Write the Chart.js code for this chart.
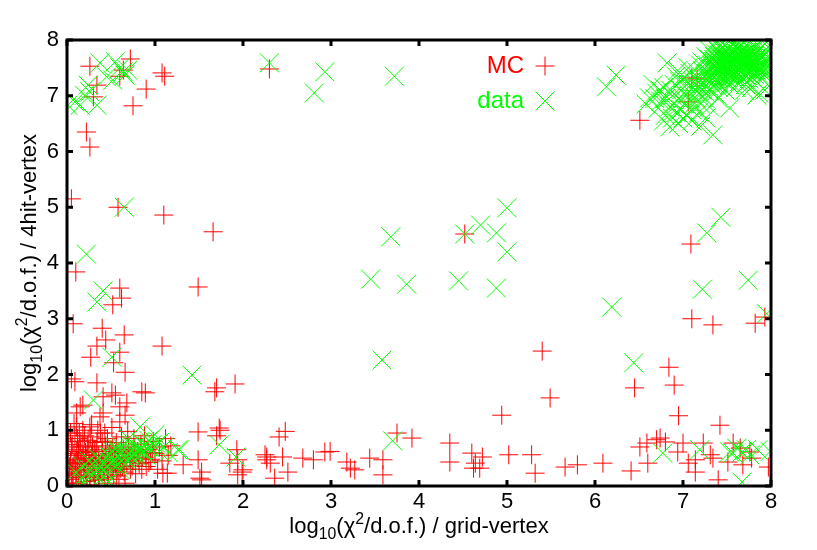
<!DOCTYPE html>
<html>
<head>
<meta charset="utf-8">
<script src="https://cdn.jsdelivr.net/npm/chart.js"></script>
<style>
  html, body { margin: 0; padding: 0; background: #fff; }
  #wrap { width: 817px; height: 550px; }
</style>
</head>
<body>
<div id="wrap"><canvas id="chart" width="817" height="550"></canvas></div>
<script>
// axis ranges and tick values
const xTicks = [0, 1, 2, 3, 4, 5, 6, 7, 8];
const yTicks = [0, 1, 2, 3, 4, 5, 6, 7, 8];
const seriesNames = ['MC', 'data'];

// MC: [log10(chi2/dof) grid-vertex, log10(chi2/dof) 4hit-vertex]
const mcPoints = [
  // scattered points
  [0.26,7.53],[0.34,7.19],[0.30,6.98],[0.22,6.35],[0.26,6.08],[0.75,6.82],[0.72,7.66],[0.64,7.46],
  [0.60,7.35],[0.90,7.12],[1.08,7.41],[1.11,7.35],[2.30,7.48],[0.05,5.15],[0.58,5.00],[1.10,4.86],
  [1.66,4.56],[1.49,3.57],[0.10,3.84],[0.60,3.55],[0.62,3.37],[0.52,3.25],[0.07,2.91],[0.40,2.83],
  [0.65,2.71],[0.44,2.62],[0.34,2.51],[1.08,2.51],[0.27,2.31],[0.60,2.40],[0.53,2.21],[0.66,2.04],
  [0.05,1.92],[0.34,1.85],[1.68,1.69],[1.70,1.76],[1.91,1.83],[0.85,1.69],[0.89,1.67],[0.51,1.67],
  [0.55,1.63],[0.41,1.60],[0.68,1.49],[0.15,1.42],[0.11,1.31],[0.41,1.31],[0.66,1.27],[0.18,1.45],
  [0.60,1.42],[0.375,1.24],[0.60,1.15],[1.49,0.97],[1.74,1.00],[0.11,1.06],[0.26,1.06],[0.06,0.74],
  [1.49,0.47],[1.32,0.38],[1.94,0.47],[1.99,0.25],[1.53,0.25],[1.09,0.23],[2.27,0.47],[2.41,0.88],
  [1.73,1.04],[1.70,0.90],[2.48,0.98],[1.93,0.65],[2.27,0.52],[2.45,0.52],[2.68,0.50],[2.80,0.47],
  [1.85,0.41],[2.00,0.29],[1.51,0.14],[1.94,0.20],[2.36,0.14],[2.51,0.25],[1.14,0.23],[2.25,0.56],
  [2.31,0.41],[2.93,0.61],[2.99,0.62],[3.18,0.43],[3.22,0.32],[3.27,0.29],[3.44,0.50],[3.59,0.47],
  [3.59,0.20],[3.75,0.95],[3.92,0.86],[4.35,0.77],[4.35,0.43],[4.60,0.59],[4.72,0.52],[4.64,0.41],
  [4.69,0.32],[4.62,0.32],[4.94,1.27],[5.02,0.56],[5.28,0.56],[5.32,0.23],[6.45,1.76],[6.90,1.81],
  [5.49,1.58],[6.95,1.26],[7.42,1.09],[5.66,0.34],[5.80,0.38],[6.09,0.41],[6.41,0.27],[6.60,0.41],
  [6.51,0.70],[6.59,0.77],[6.70,0.83],[6.74,0.86],[6.80,0.79],[6.94,0.61],[7.00,0.77],[7.06,0.41],
  [7.14,0.25],[7.14,0.47],[7.23,0.77],[7.31,0.56],[7.34,0.50],[7.40,0.11],[7.51,0.43],[7.57,0.77],
  [7.65,0.68],[7.68,0.38],[7.76,0.61],[7.78,0.50],[7.97,0.34],[7.09,4.34],[7.10,3.00],[7.34,2.89],
  [7.82,2.92],[7.93,3.03],[5.40,2.42],[6.84,2.13],[4.52,4.52],[6.51,6.56],[7.10,7.32],[7.16,7.30],
  [7.06,6.89],[0.09,1.87],[1.53,0.11],
  // dense group near the origin
  [0.02,0.05],[0.03,0.25],[0.04,0.45],[0.05,0.70],[0.06,0.12],[0.07,0.35],[0.08,0.58],[0.09,0.90],
  [0.10,0.20],[0.11,0.05],[0.12,0.42],[0.13,0.65],[0.14,0.30],[0.15,0.80],[0.16,0.15],[0.17,0.50],
  [0.18,1.00],[0.19,0.25],[0.20,0.38],[0.21,0.60],[0.22,0.08],[0.23,0.72],[0.24,0.30],[0.25,0.45],
  [0.26,0.18],[0.27,0.88],[0.28,0.55],[0.29,0.35],[0.30,0.25],[0.31,0.65],[0.32,0.10],[0.33,0.45],
  [0.34,0.78],[0.35,0.30],[0.36,0.55],[0.37,0.20],[0.38,0.95],[0.39,0.40],[0.40,0.62],[0.41,0.28],
  [0.42,0.50],[0.43,0.15],[0.44,0.72],[0.45,0.38],[0.46,0.85],[0.47,0.25],[0.48,0.58],[0.49,0.45],
  [0.50,0.32],[0.51,1.05],[0.52,0.68],[0.53,0.20],[0.54,0.50],[0.55,0.40],[0.56,0.78],[0.57,0.30],
  [0.58,0.60],[0.59,0.12],[0.60,0.48],[0.62,0.88],[0.63,0.35],[0.64,0.65],[0.65,0.25],[0.66,0.52],
  [0.68,0.42],[0.69,0.98],[0.70,0.70],[0.72,0.30],[0.73,0.58],[0.75,0.45],[0.76,0.85],[0.78,0.22],
  [0.80,0.62],[0.82,0.40],[0.84,0.75],[0.86,0.52],[0.88,0.90],[0.90,0.35],[0.92,0.65],[0.95,0.48],
  [0.98,0.80],[1.00,0.58],[1.03,0.30],[1.05,0.70],[1.08,0.45],[1.12,0.85],[1.15,0.55],[1.18,0.72],
  [0.04,0.95],[0.08,1.12],[0.12,0.85],[0.20,0.90],[0.28,1.10],[0.35,1.00],[0.15,0.62],[0.25,0.62],
  [0.32,0.50],[0.43,0.95],[0.10,0.48],[0.22,0.50],[0.30,0.42],[0.18,0.70],[0.06,0.32],[0.36,0.12],
  [0.46,0.05],[0.26,0.02],[0.56,0.18],[0.66,0.05],
  [0.01,0.15],[0.01,0.55],[0.02,0.80],[0.03,0.35],[0.05,0.22],[0.07,0.05],[0.09,0.40],[0.11,0.62],
  [0.13,0.18],[0.14,0.95],[0.16,0.40],[0.19,0.55],[0.21,0.28],[0.23,0.15],[0.24,0.82],[0.27,0.40],
  [0.29,0.70],[0.31,0.18],[0.33,0.62],[0.36,0.40],[0.38,0.28],[0.40,0.80],[0.42,0.35],[0.44,0.55],
  [0.47,0.42],[0.50,0.65],[0.52,0.28],[0.55,0.58],[0.58,0.45],[0.61,0.32],[0.64,0.42],[0.67,0.62],
  [0.71,0.52],[0.74,0.36],[0.77,0.65],[0.81,0.50],[0.85,0.30],[0.89,0.60],[0.93,0.42],[0.97,0.60]
];

// data
const dataPoints = [
  // scattered points
  [0.09,6.89],[0.01,6.83],[0.15,6.83],[0.20,7.01],[0.26,7.07],[0.34,6.83],[0.24,7.19],[0.375,7.59],
  [0.45,7.34],[0.55,7.61],[0.64,7.43],[0.69,7.46],[0.60,7.50],[0.66,7.37],[0.52,7.28],[2.30,7.59],
  [0.65,5.00],[2.93,7.43],[2.81,7.05],[3.72,7.35],[5.00,4.99],[4.70,4.68],[4.88,4.54],[4.52,4.52],
  [5.00,4.20],[3.68,4.47],[3.45,3.71],[3.86,3.62],[4.45,3.68],[4.88,3.55],[3.58,2.26],[0.22,4.16],
  [0.41,3.50],[0.34,3.30],[0.51,2.31],[1.42,1.99],[0.30,1.54],[7.43,4.82],[7.27,4.54],[7.22,3.53],
  [7.74,3.69],[6.19,3.21],[7.95,3.09],[6.44,2.21],[6.24,7.37],[6.13,7.16],[6.77,0.59],[7.19,0.65],
  [7.53,0.61],[7.61,0.68],[7.67,0.61],[7.72,0.65],[7.76,0.56],[7.85,0.65],[7.99,0.62],[7.67,0.07],
  [7.57,0.59],[3.70,0.81],[1.73,0.74],[1.92,0.52],[1.26,0.65],
  // group near the origin
  [0.10,0.25],[0.18,0.35],[0.22,0.20],[0.26,0.29],[0.30,0.40],[0.34,0.30],[0.375,0.11],[0.41,0.16],
  [0.40,0.45],[0.45,0.35],[0.48,0.55],[0.50,0.42],[0.52,0.62],[0.55,0.48],[0.58,0.38],[0.60,0.58],
  [0.62,0.70],[0.65,0.50],[0.68,0.62],[0.70,0.45],[0.72,0.75],[0.75,0.58],[0.78,0.68],[0.80,0.52],
  [0.83,0.80],[0.85,0.65],[0.88,0.72],[0.90,0.55],[0.93,0.82],[0.95,0.68],[1.00,0.92],[1.02,0.75],
  [1.05,0.62],[1.10,0.70],[1.15,0.60],[1.28,0.65],[0.83,1.06],[0.45,0.22],[0.35,0.50],[0.55,0.70],
  [0.60,0.30],[0.70,0.85],[0.25,0.45],[0.15,0.12],[0.48,0.08],
  [0.20,0.10],[0.28,0.20],[0.32,0.22],[0.38,0.35],[0.42,0.28],[0.47,0.45],[0.53,0.40],[0.57,0.52],
  [0.62,0.45],[0.67,0.55],[0.73,0.52],[0.77,0.60],[0.82,0.65],[0.87,0.60],[0.92,0.70],[0.97,0.75],
  [1.05,0.78],[0.63,0.62],[0.58,0.62],[0.50,0.50],
  // dense group in the top-right corner
  [7.20,7.20],[7.25,7.35],[7.30,7.25],[7.32,7.45],[7.35,7.55],[7.38,7.30],[7.40,7.40],[7.42,7.62],
  [7.45,7.50],[7.47,7.35],[7.50,7.70],[7.52,7.58],[7.55,7.45],[7.55,7.80],[7.58,7.65],[7.60,7.52],
  [7.62,7.72],[7.63,7.40],[7.65,7.60],[7.68,7.85],[7.70,7.50],[7.72,7.68],[7.74,7.78],[7.75,7.57],
  [7.78,7.45],[7.80,7.70],[7.82,7.60],[7.85,7.80],[7.88,7.55],[7.90,7.68],[7.93,7.75],[7.95,7.62],
  [7.60,7.90],[7.50,7.88],[7.40,7.80],[7.45,7.70],[7.35,7.65],[7.28,7.55],[7.22,7.45],[7.18,7.30],
  [7.30,7.10],[7.40,7.15],[7.50,7.25],[7.58,7.30],[7.66,7.35],[7.75,7.30],[7.85,7.40],[7.92,7.45],
  [7.80,7.92],[7.70,7.95],[7.90,7.90],[7.98,7.85],[7.48,7.42],[7.53,7.65],[7.57,7.55],[7.62,7.48],
  [7.67,7.70],[7.43,7.55],[7.37,7.42],[7.33,7.35],[7.52,7.50],[7.60,7.62],[7.70,7.62],[7.65,7.80],
  [7.55,7.72],[7.45,7.60],[7.38,7.50],[7.27,7.40],[7.24,7.22],[7.34,7.18],[7.46,7.28],[7.58,7.40],
  [7.72,7.42],[7.82,7.50],[7.88,7.66],[7.78,7.82],[7.64,7.88],[7.50,7.80],[7.42,7.72],[7.36,7.60],
  [7.22,7.60],[7.26,7.70],[7.30,7.82],[7.34,7.92],[7.38,7.75],[7.41,7.88],[7.44,7.95],[7.47,7.78],
  [7.49,7.62],[7.51,7.45],[7.54,7.35],[7.56,7.92],[7.59,7.80],[7.61,7.68],[7.63,7.56],[7.66,7.44],
  [7.68,7.32],[7.71,7.20],[7.73,7.88],[7.76,7.72],[7.79,7.60],[7.81,7.38],[7.84,7.25],[7.86,7.90],
  [7.89,7.75],[7.91,7.58],[7.94,7.40],[7.96,7.70],[7.97,7.52],[7.70,7.10],[7.60,7.15],[7.48,7.10],
  [7.36,7.05],[7.26,7.05],[7.14,7.10],[7.16,7.42],[7.20,7.55],[7.12,7.25],[7.30,7.65],[7.45,7.85],
  [7.58,7.96],[7.66,7.92],[7.74,7.64],[7.83,7.68],[7.87,7.48],[7.77,7.52],[7.69,7.55],[7.57,7.48],
  [7.49,7.53],[7.41,7.47],[7.33,7.55],[7.29,7.32],[7.39,7.22],[7.53,7.20],[7.64,7.25],[7.78,7.15],
  [7.90,7.30],[7.93,7.10],[7.86,7.05],[7.46,7.64],[7.54,7.58],[7.62,7.66],[7.71,7.76],[7.80,7.84],
  [7.68,7.48],[7.58,7.35],[7.44,7.40],[7.36,7.35],[7.52,7.75],[7.61,7.84],
  [7.31,7.38],[7.34,7.50],[7.37,7.62],[7.40,7.33],[7.43,7.45],[7.46,7.57],[7.49,7.69],[7.51,7.37],
  [7.54,7.52],[7.57,7.63],[7.59,7.43],[7.62,7.57],[7.64,7.69],[7.67,7.51],[7.69,7.64],[7.71,7.38],
  [7.73,7.53],[7.75,7.67],[7.77,7.42],[7.79,7.55],[7.81,7.73],[7.83,7.46],[7.85,7.62],[7.87,7.72],
  [7.89,7.42],[7.91,7.52],[7.39,7.58],[7.44,7.66],[7.48,7.47],[7.56,7.40],[7.61,7.58],[7.66,7.62],
  [7.72,7.48],[7.76,7.60],[7.82,7.56],[7.36,7.70],[7.42,7.52],[7.52,7.62],[7.63,7.75],[7.74,7.72],
  [6.62,6.96],[6.70,7.05],[6.75,6.90],[6.78,7.15],[6.82,7.59],[6.85,6.80],[6.88,7.00],[6.90,7.20],
  [6.92,6.70],[6.95,6.95],[6.98,7.10],[7.00,7.30],[7.02,6.85],[7.05,7.05],[7.08,7.40],[7.10,6.75],
  [7.12,7.15],[7.15,6.95],[7.18,7.05],[7.20,6.85],[7.22,7.10],[6.85,6.44],[7.34,6.30],[7.10,6.55],
  [7.00,6.60],[6.80,6.65],[6.72,6.78],[6.95,6.50],[7.25,6.95],[7.30,6.80],[7.53,6.78],[7.84,7.01],
  [7.95,7.96],[7.40,6.95],[7.05,6.65],[6.66,7.20],[7.15,7.30],[6.92,7.35],
  [6.58,6.85],[6.68,6.95],[6.74,7.10],[6.80,6.95],[6.86,7.10],[6.90,6.85],[6.96,7.25],[7.00,6.95],
  [7.04,7.20],[7.08,6.95],[7.12,6.85],[7.16,7.15],[7.06,7.50],[6.98,6.75],[6.88,6.60],[6.78,6.55],
  [7.18,6.70],[7.26,6.60],[7.20,6.45],[6.94,7.45]
];

const FONT = '"Liberation Sans", Arial, Helvetica, sans-serif';
const RED = 'rgb(255,0,0)';
const GREEN = 'rgb(0,255,0)';

// text with sub/superscripts, centred on (0,0) baseline
function drawRich(ctx, parts, size) {
    let total = 0;
    parts.forEach(p => {
        p.s = (p.sub || p.sup) ? size * 0.72 : size;
        ctx.font = p.s + 'px ' + FONT;
        p.w = ctx.measureText(p.t).width;
        total += p.w;
    });
    let x = -total / 2;
    parts.forEach(p => {
        ctx.font = p.s + 'px ' + FONT;
        const dy = p.sub ? size * 0.28 : (p.sup ? -size * 0.42 : 0);
        ctx.fillText(p.t, x, dy);
        x += p.w;
    });
}

// frame, inward ticks, axis titles and key, gnuplot style
const framePlugin = {
    id: 'frame',
    afterDatasetsDraw(chart) {
        const ctx = chart.ctx;
        const a = chart.chartArea;
        const xs = chart.scales.x, ys = chart.scales.y;
        ctx.save();
        ctx.strokeStyle = '#000';
        ctx.lineWidth = 3;
        ctx.strokeRect(a.left, a.top, a.right - a.left, a.bottom - a.top);
        ctx.beginPath();
        xTicks.forEach(v => {
            const px = xs.getPixelForValue(v);
            ctx.moveTo(px, a.bottom); ctx.lineTo(px, a.bottom - 6);
            ctx.moveTo(px, a.top); ctx.lineTo(px, a.top + 6);
        });
        yTicks.forEach(v => {
            const py = ys.getPixelForValue(v);
            ctx.moveTo(a.left, py); ctx.lineTo(a.left + 6, py);
            ctx.moveTo(a.right, py); ctx.lineTo(a.right - 6, py);
        });
        ctx.stroke();

        // axis titles
        ctx.fillStyle = '#000';
        ctx.textBaseline = 'alphabetic';
        ctx.textAlign = 'left';
        ctx.save();
        ctx.translate((a.left + a.right) / 2, 533);
        drawRich(ctx, [{t: 'log'}, {t: '10', sub: true}, {t: '(\u03C7'}, {t: '2', sup: true}, {t: '/d.o.f.) / grid-vertex'}], 22);
        ctx.restore();
        ctx.save();
        ctx.translate(36, (a.top + a.bottom) / 2);
        ctx.rotate(-Math.PI / 2);
        drawRich(ctx, [{t: 'log'}, {t: '10', sub: true}, {t: '(\u03C7'}, {t: '2', sup: true}, {t: '/d.o.f.) / 4hit-vertex'}], 22);
        ctx.restore();

        // key
        ctx.font = '24px ' + FONT;
        ctx.textAlign = 'right';
        ctx.textBaseline = 'middle';
        const keyColors = [RED, GREEN];
        const keyStyles = ['cross', 'crossRot'];
        const keyRadius = [9.5, 13.4];
        seriesNames.forEach((name, i) => {
            const y = 66 + i * 35;
            ctx.fillStyle = keyColors[i];
            ctx.fillText(name, 524, y);
            ctx.strokeStyle = keyColors[i];
            ctx.lineWidth = 1;
            Chart.helpers.drawPoint(ctx, {pointStyle: keyStyles[i], radius: keyRadius[i], rotation: 0, borderWidth: 1}, 545, y);
        });
        ctx.restore();
    }
};

const toXY = arr => arr.map(p => ({x: p[0], y: p[1]}));

new Chart(document.getElementById('chart'), {
    type: 'scatter',
    data: {
        datasets: [{
            label: seriesNames[0],
            data: toXY(mcPoints),
            pointStyle: 'cross',
            pointRadius: 9.5,
            borderColor: RED,
            backgroundColor: RED,
            borderWidth: 1,
            order: 2
        }, {
            label: seriesNames[1],
            data: toXY(dataPoints),
            pointStyle: 'crossRot',
            pointRadius: 13.4,
            borderColor: GREEN,
            backgroundColor: GREEN,
            borderWidth: 1,
            order: 1
        }]
    },
    options: {
        responsive: false,
        animation: false,
        events: [],
        layout: { padding: { left: 47, right: 46, top: 40, bottom: 34 } },
        plugins: {
            legend: { display: false },
            tooltip: { enabled: false }
        },
        scales: {
            x: {
                type: 'linear', min: 0, max: 8,
                afterBuildTicks: s => { s.ticks = xTicks.map(v => ({value: v})); },
                afterFit: s => { s.height = 30; },
                grid: { display: false, drawTicks: false },
                border: { display: false },
                ticks: { color: '#000', padding: 3, maxRotation: 0, font: { family: FONT, size: 22 } }
            },
            y: {
                type: 'linear', min: 0, max: 8,
                afterBuildTicks: s => { s.ticks = yTicks.map(v => ({value: v})); },
                afterFit: s => { s.width = 20; },
                grid: { display: false, drawTicks: false },
                border: { display: false },
                ticks: { color: '#000', padding: 8, font: { family: FONT, size: 22 } }
            }
        }
    },
    plugins: [framePlugin]
});
</script>
</body>
</html>
